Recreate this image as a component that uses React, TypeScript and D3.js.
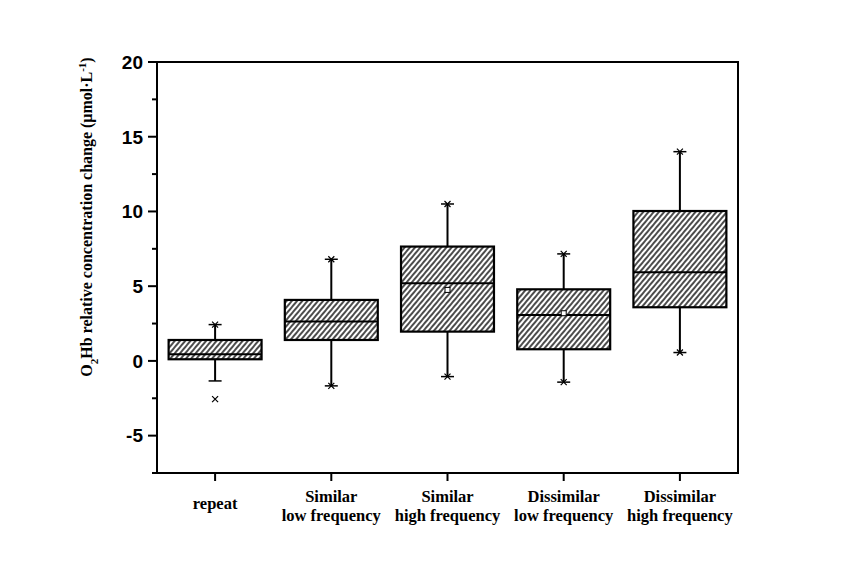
import React from "react";
import * as d3 from "d3";

const categories = ["repeat", "Similar\nlow frequency", "Similar\nhigh frequency", "Dissimilar\nlow frequency", "Dissimilar\nhigh frequency"];
const q1 = [0.11, 1.4, 1.96, 0.78, 3.59];
const medians = [0.45, 2.63, 5.2, 3.08, 5.93];
const q3 = [1.4, 4.08, 7.65, 4.79, 10.03];
const whiskerLow = [-1.34, -1.67, -1.05, -1.42, 0.56];
const whiskerHigh = [2.43, 6.8, 10.5, 7.16, 14.0];
const crossMarkers = [[2.43, -2.56], [6.8, -1.67], [10.5, -1.05], [7.16, -1.42], [14.0, 0.56]];
const means = [null, null, 4.75, 3.19, null];
const yTicks = [-5, 0, 5, 10, 15, 20];
const yMinor = [-7.5, -2.5, 2.5, 7.5, 12.5, 17.5];

const W = 851, H = 562;
const L = 157, R = 738, T = 62, B = 473;

export default function App() {
  const x = d3.scaleLinear().domain([0.5, 5.5]).range([L, R]);
  const y = d3.scaleLinear().domain([-7.5, 20]).range([B, T]);
  const bw = 0.8 * (x(2) - x(1));
  const cap = 13;
  const serif = "Liberation Serif, Times New Roman, serif";
  return (
    <svg width={W} height={H} style={{ position: "absolute", left: 0, top: 0, background: "#fff" }}>
      <defs>
        <pattern id="hatch" patternUnits="userSpaceOnUse" width={4} height={8} patternTransform="rotate(40)">
          <rect width={4} height={8} fill="#fff" />
          <line x1={1} y1={0} x2={1} y2={8} stroke="#000" strokeWidth={1.4} />
        </pattern>
      </defs>
      {categories.map((c, i) => {
        const cx = x(i + 1);
        return (
          <g key={i}>
            <line x1={cx} x2={cx} y1={y(whiskerHigh[i])} y2={y(q3[i])} stroke="#000" strokeWidth={2} />
            <line x1={cx} x2={cx} y1={y(q1[i])} y2={y(whiskerLow[i])} stroke="#000" strokeWidth={2} />
            <line x1={cx - cap / 2} x2={cx + cap / 2} y1={y(whiskerHigh[i])} y2={y(whiskerHigh[i])} stroke="#000" strokeWidth={1.5} />
            <line x1={cx - cap / 2} x2={cx + cap / 2} y1={y(whiskerLow[i])} y2={y(whiskerLow[i])} stroke="#000" strokeWidth={1.5} />
            <rect x={cx - bw / 2} y={y(q3[i])} width={bw} height={y(q1[i]) - y(q3[i])} fill="url(#hatch)" stroke="#000" strokeWidth={2.2} />
            <line x1={cx - bw / 2} x2={cx + bw / 2} y1={y(medians[i])} y2={y(medians[i])} stroke="#000" strokeWidth={2} />
            {crossMarkers[i].map((v, j) => (
              <path key={j} d={`M${cx - 3},${y(v) - 3}L${cx + 3},${y(v) + 3}M${cx - 3},${y(v) + 3}L${cx + 3},${y(v) - 3}`} stroke="#000" strokeWidth={1.2} />
            ))}
            {means[i] != null && (
              <rect x={cx - 2.5} y={y(means[i] as number) - 2.5} width={5} height={5} fill="#fff" stroke="#000" strokeWidth={1} />
            )}
          </g>
        );
      })}
      <rect x={L} y={T} width={R - L} height={B - T} fill="none" stroke="#000" strokeWidth={2} />
      {yTicks.map((t) => (
        <g key={t}>
          <line x1={L - 9} x2={L} y1={y(t)} y2={y(t)} stroke="#000" strokeWidth={2} />
          <text x={L - 14} y={y(t)} dy="0.36em" textAnchor="end" fontFamily="Liberation Sans, Arial, sans-serif" fontWeight="bold" fontSize={19}>{t}</text>
        </g>
      ))}
      {yMinor.map((t) => (
        <line key={t} x1={L - 5} x2={L} y1={y(t)} y2={y(t)} stroke="#000" strokeWidth={2} />
      ))}
      {categories.map((c, i) => {
        const cx = x(i + 1);
        const lines = c.split("\n");
        return (
          <g key={i}>
            <line x1={cx} x2={cx} y1={B} y2={B + 8} stroke="#000" strokeWidth={2} />
            {lines.length === 1 ? (
              <text x={cx} y={509} textAnchor="middle" fontFamily={serif} fontWeight="bold" fontSize={16.5}>{lines[0]}</text>
            ) : (
              lines.map((ln, k) => (
                <text key={k} x={cx} y={502 + k * 19} textAnchor="middle" fontFamily={serif} fontWeight="bold" fontSize={16.5}>{ln}</text>
              ))
            )}
          </g>
        );
      })}
      <text transform="translate(92,217) rotate(-90)" textAnchor="middle" fontFamily={serif} fontWeight="bold" fontSize={16}>
        O<tspan baselineShift="sub" fontSize={11}>2</tspan>Hb relative concentration change (μmol·L<tspan baselineShift="super" fontSize={11}>-1</tspan>)
      </text>
    </svg>
  );
}
